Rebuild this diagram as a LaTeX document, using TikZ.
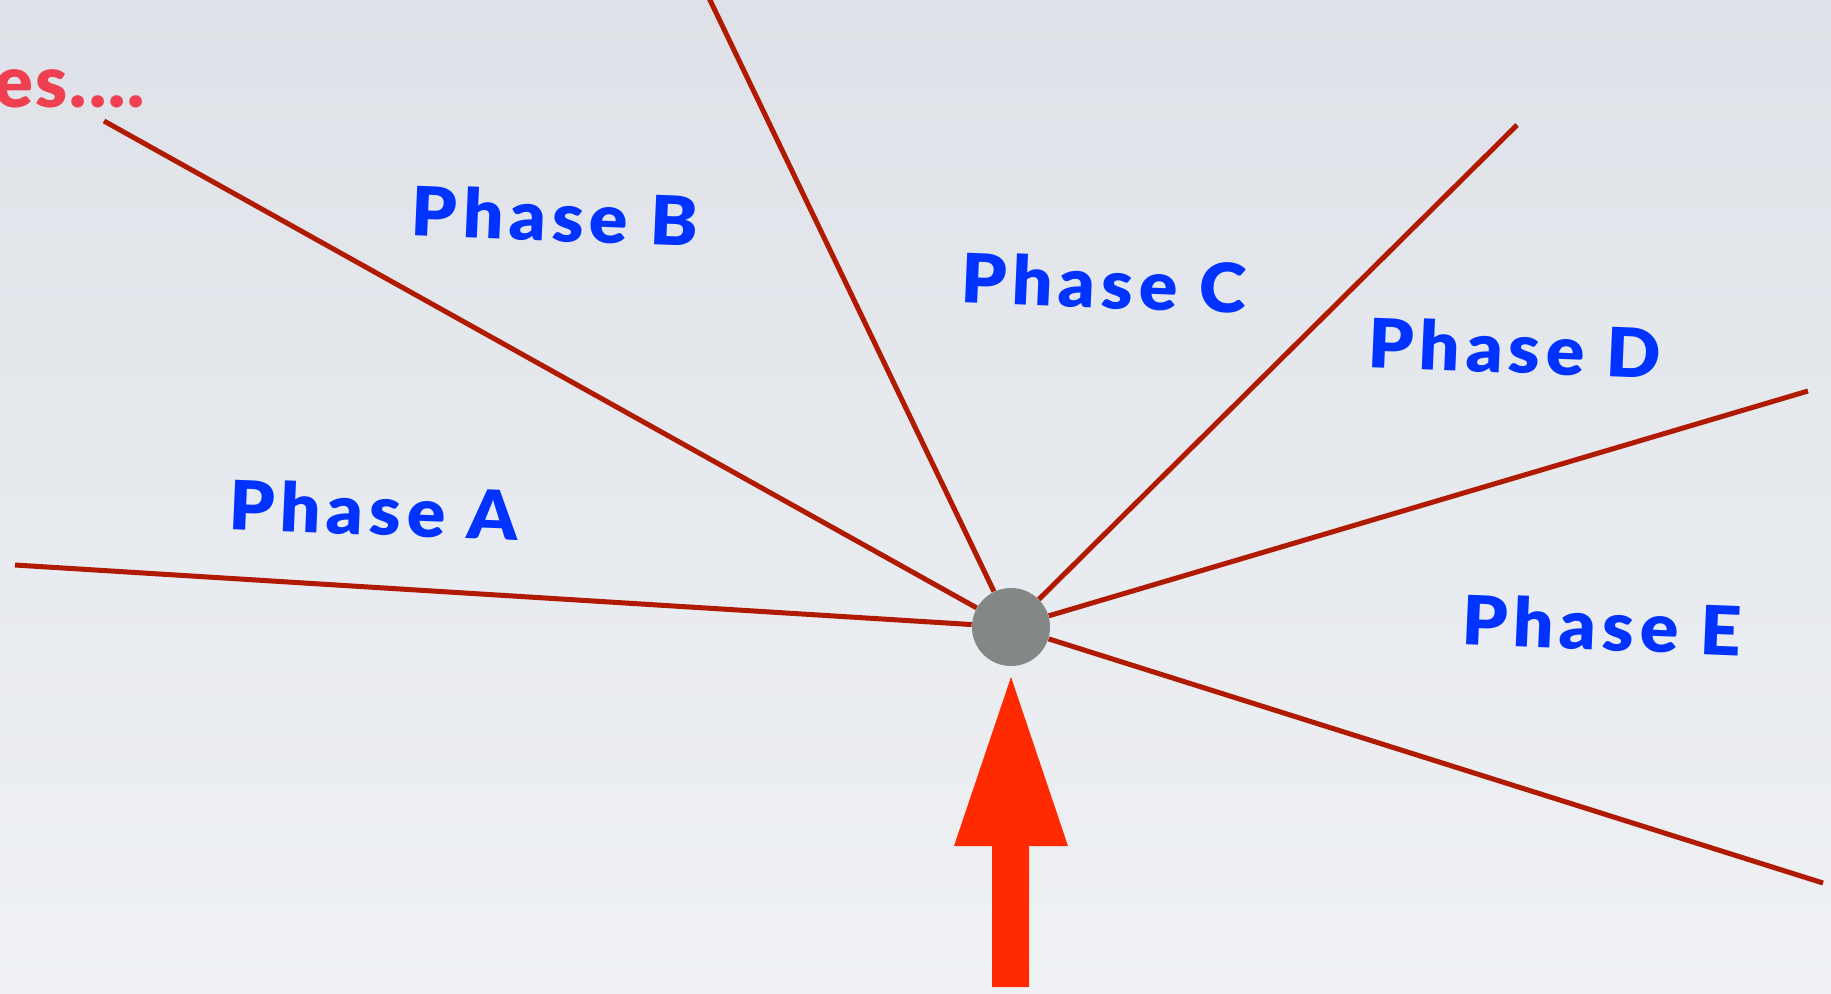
\documentclass[tikz,border=0pt]{standalone}
\usepackage{fontspec}
\newfontfamily\phasefont[LetterSpace=8]{Lato Black}
\newfontfamily\notefont[LetterSpace=3]{Lato Black}
\definecolor{bgtop}{HTML}{DEE2E8}
\definecolor{bgbottom}{HTML}{EFF1F4}
\definecolor{spoke}{HTML}{B01A00}
\definecolor{hubgray}{HTML}{838886}
\definecolor{phaseblue}{HTML}{0033FF}
\definecolor{noteread}{HTML}{EE4050}
\definecolor{arrowred}{HTML}{FF2A00}
\tikzset{
  spokeline/.style={draw=spoke, line width=2.5pt},
  phaselabel/.style={text=phaseblue, font=\phasefont\fontsize{34}{34}\selectfont, inner sep=0pt, xscale=1.05},
}
\begin{document}
\begin{tikzpicture}[x=0.5pt, y=-0.5pt]
\useasboundingbox (0,0) rectangle (1831,993);
\shade[top color=bgtop, bottom color=bgbottom] (0,0) rectangle (1831,993);
\node[circle, fill=hubgray, minimum size=39pt, inner sep=0pt] (hub) at (1011,627) {};
\coordinate (endA) at (15,565);
\coordinate (endB) at (104,121);
\coordinate (endTop) at (709,-2);
\coordinate (endC) at (1517,125);
\coordinate (endD) at (1808,391);
\coordinate (endE) at (1823,883);
\draw[spokeline] (hub) -- (endA);
\draw[spokeline] (hub) -- (endB);
\draw[spokeline] (hub) -- (endTop);
\draw[spokeline] (hub) -- (endC);
\draw[spokeline] (hub) -- (endD);
\draw[spokeline] (hub) -- (endE);
\node[phaselabel, rotate=-2.4] (phaseA) at (374,510) {Phase A};
\node[phaselabel, rotate=-2.4] (phaseB) at (555,216) {Phase B};
\node[phaselabel, rotate=-2.4] (phaseC) at (1104,283) {Phase C};
\node[phaselabel, rotate=-2.4] (phaseD) at (1515,348) {Phase D};
\node[phaselabel, rotate=-2.4] (phaseE) at (1602,625) {Phase E};
\node[text=noteread, font=\notefont\fontsize{36}{36}\selectfont, anchor=base west, inner sep=0pt] (note) at (-6,107) {es....};
% arrow pointing up at the hub
\fill[arrowred] (992,987) -- (992,846) -- (954,846) -- (1011,677) -- (1068,846) -- (1029,846) -- (1029,987) -- cycle;
\end{tikzpicture}
\end{document}
